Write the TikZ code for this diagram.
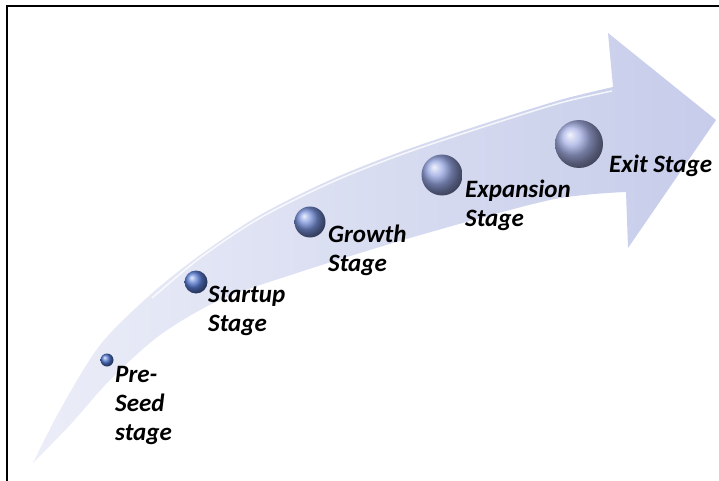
\documentclass[tikz,border=0pt]{standalone}
\usepackage{fontspec}
\setmainfont{Carlito}
\definecolor{arrowfill}{RGB}{198,204,234}
\definecolor{ballone}{RGB}{80,118,210}
\definecolor{balltwo}{RGB}{90,125,212}
\definecolor{ballthree}{RGB}{120,145,218}
\definecolor{ballfour}{RGB}{150,165,225}
\definecolor{ballfive}{RGB}{165,175,228}
\begin{document}
\begin{tikzpicture}[x=1pt,y=-1pt,
    stage/.style={circle,inner sep=0pt},
    stagetext/.style={anchor=north west,inner sep=0pt,align=left,
      font=\fontsize{25}{29}\selectfont\bfseries\itshape}]
  \useasboundingbox (0,0) rectangle (719,481);
  \draw[line width=2pt] (719,6) -- (7,6) -- (7,481);
  % curved arrow
  \shade[left color=arrowfill!35!white,right color=arrowfill]
    plot[smooth] coordinates {(33,463) (60,410) (100,345) (150,295) (200,255)
      (260,215) (330,180) (400,152) (480,125) (560,100) (613,87)}
    -- (608,33) -- (716,120) -- (628,248)
    -- plot[smooth] coordinates {(626,192) (550,200) (410,238) (300,272)
      (220,300) (160,335) (110,380) (70,425) (33,463)}
    -- cycle;
  \draw[white,line width=1.5pt,opacity=.8]
    plot[smooth] coordinates {(152,298) (200,258) (260,218) (330,183)
      (400,155) (480,128) (560,103) (612,91)};
  % stages
  \node[stage,ball color=ballone,minimum size=13pt] (preseed) at (107,360) {};
  \node[stage,ball color=balltwo,minimum size=23pt] (startup) at (196,282) {};
  \node[stage,ball color=ballthree,minimum size=31pt] (growth) at (310,222) {};
  \node[stage,ball color=ballfour,minimum size=41pt] (expansion) at (442,175) {};
  \node[stage,ball color=ballfive,minimum size=48pt] (exit) at (579,144) {};
  \node[stagetext] (preseedtext) at (115,366) {Pre-\\Seed\\stage};
  \node[stagetext] (startuptext) at (208,286) {Startup\\Stage};
  \node[stagetext] (growthtext) at (328,225) {Growth\\Stage};
  \node[stagetext] (expansiontext) at (465,180) {Expansion\\Stage};
  \node[stagetext] (exittext) at (609,155) {Exit Stage};
\end{tikzpicture}
\end{document}
